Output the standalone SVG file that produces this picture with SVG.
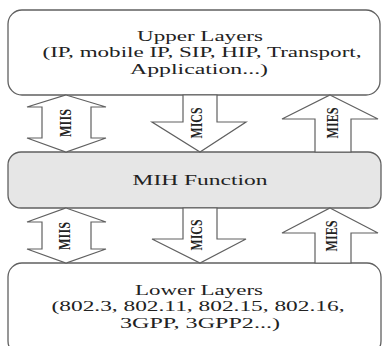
<svg xmlns="http://www.w3.org/2000/svg" width="382" height="346" viewBox="0 0 382 346">
<style>
.box{fill:#fff;stroke:#606060;stroke-width:1.3}
.mih{fill:#e6e6e6;stroke:#606060;stroke-width:1.3}
.arr{fill:#fff;stroke:#606060;stroke-width:1.2;stroke-linejoin:miter}
.t{font-family:"Liberation Serif",serif;font-size:14px;fill:#222;text-anchor:middle}
.lbl{font-family:"Liberation Serif",serif;font-size:17px;font-weight:bold;fill:#222;text-anchor:middle;dominant-baseline:central}
</style>
<rect width="382" height="346" fill="#fff"/>
<g id="upper">
<rect class="box" x="8" y="10" width="372" height="85" rx="14"/>
<text class="t" x="200" y="41" textLength="126" lengthAdjust="spacingAndGlyphs">Upper Layers</text>
<text class="t" x="202" y="57" textLength="319" lengthAdjust="spacingAndGlyphs">(IP, mobile IP, SIP, HIP, Transport,</text>
<text class="t" x="199" y="74" textLength="138" lengthAdjust="spacingAndGlyphs">Application...)</text>
</g>
<g id="mih">
<rect class="mih" x="8" y="152" width="373" height="56" rx="13"/>
<text class="t" x="200" y="185" style="font-size:15px" textLength="135" lengthAdjust="spacingAndGlyphs">MIH Function</text>
</g>
<g id="lower">
<rect class="box" x="8" y="263" width="373" height="92" rx="14"/>
<text class="t" x="199" y="295" textLength="128" lengthAdjust="spacingAndGlyphs">Lower Layers</text>
<text class="t" x="198" y="311" textLength="293" lengthAdjust="spacingAndGlyphs">(802.3, 802.11, 802.15, 802.16,</text>
<text class="t" x="200" y="328" textLength="160" lengthAdjust="spacingAndGlyphs">3GPP, 3GPP2...)</text>
</g>
<g id="connectors">
<g id="miis-up">
<polygon class="arr" points="66,95 106,107 91,107 91,138 106,138 66,152 27,138 42,138 42,107 27,107"/>
<text class="lbl" transform="translate(65,123) rotate(-90)" textLength="28" lengthAdjust="spacingAndGlyphs">MIIS</text>
</g>
<g id="mics-up">
<polygon class="arr" points="183,95 217,95 217,122 246,122 200,152 152,122 183,122"/>
<text class="lbl" transform="translate(196,123) rotate(-90)" textLength="31" lengthAdjust="spacingAndGlyphs">MICS</text>
</g>
<g id="mies-up">
<polygon class="arr" points="330,95 378,119 351,119 351,152 315,152 315,119 282,119"/>
<text class="lbl" transform="translate(332,123) rotate(-90)" textLength="31" lengthAdjust="spacingAndGlyphs">MIES</text>
</g>
<g id="miis-low">
<polygon class="arr" points="66,208 106,222 91,222 91,249 106,249 66,263 27,249 42,249 42,222 27,222"/>
<text class="lbl" transform="translate(64,236) rotate(-90)" textLength="28" lengthAdjust="spacingAndGlyphs">MIIS</text>
</g>
<g id="mics-low">
<polygon class="arr" points="183,208 217,208 217,239 246,239 200,263 152,239 183,239"/>
<text class="lbl" transform="translate(196,235) rotate(-90)" textLength="31" lengthAdjust="spacingAndGlyphs">MICS</text>
</g>
<g id="mies-low">
<polygon class="arr" points="330,208 378,233 351,233 351,263 315,263 315,233 282,233"/>
<text class="lbl" transform="translate(331,236) rotate(-90)" textLength="31" lengthAdjust="spacingAndGlyphs">MIES</text>
</g>
</g>
</svg>
